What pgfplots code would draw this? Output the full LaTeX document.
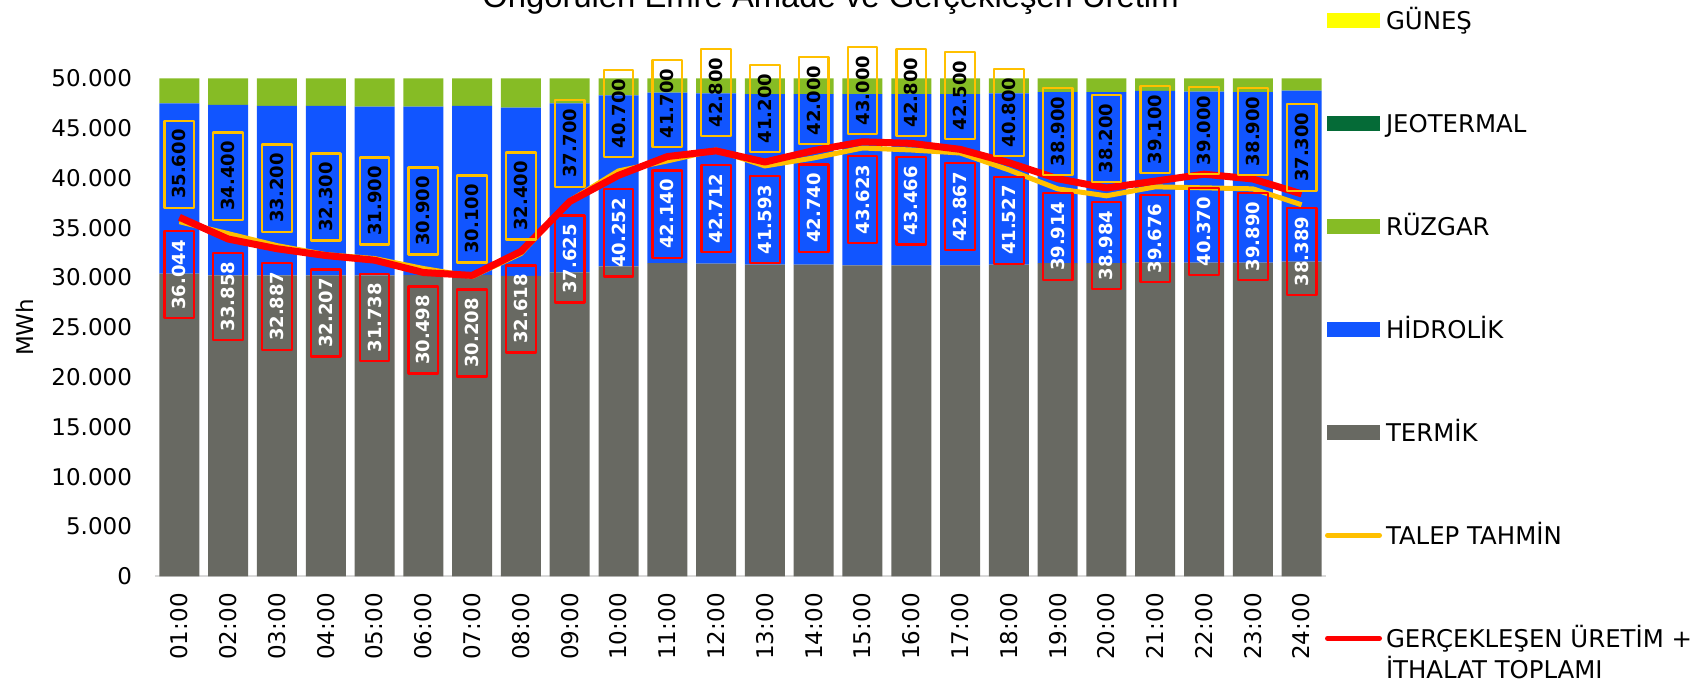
\documentclass[border=0pt]{standalone}
\usepackage{fontspec}
\setmainfont{DejaVu Sans}
\newfontfamily\titlefont{Liberation Sans}
\usepackage{pgfplots}
\usepackage{pgfplotstable}
\pgfplotsset{compat=1.18}
\definecolor{termik}{RGB}{104,105,98}
\definecolor{hidro}{RGB}{17,85,255}
\definecolor{ruzgar}{RGB}{134,188,37}
\definecolor{jeo}{RGB}{5,107,55}
\definecolor{gunes}{RGB}{255,255,0}
\definecolor{talep}{RGB}{255,192,0}
\definecolor{gercek}{RGB}{255,0,0}
\definecolor{axgray}{RGB}{217,217,217}

\pgfplotstableread{
x termik hidro ruzgar talep gercek
0  30380 17110 2510 35600 36044
1  30210 17110 2680 34400 33858
2  30210 17010 2780 33200 32887
3  30210 17010 2780 32300 32207
4  30210 16940 2850 31900 31738
5  30240 16910 2850 30900 30498
6  30240 16980 2780 30100 30208
7  30150 16900 2950 32400 32618
8  30510 16980 2510 37700 37625
9  31110 17180 1710 40700 40252
10 31450 17110 1440 41700 42140
11 31380 17110 1510 42800 42712
12 31280 17140 1580 41200 41593
13 31280 17140 1580 42000 42740
14 31210 17210 1580 43000 43623
15 31210 17210 1580 42800 43466
16 31210 17210 1580 42500 42867
17 31280 17210 1510 40800 41527
18 31450 17170 1380 38900 39914
19 31450 17170 1380 38200 38984
20 31510 17220 1270 39100 39676
21 31480 17180 1340 39000 40370
22 31480 17140 1380 38900 39890
23 31580 17170 1250 37300 38389
}\data

\tikzset{
  talepnode/.style={rotate=90, anchor=west, draw=talep, line width=1.1pt,
    inner xsep=4.4pt, inner ysep=4pt, outer sep=7pt, text=black,
    font=\fontsize{9}{10}\selectfont\bfseries},
  gerceknode/.style={rotate=90, anchor=east, draw=gercek, line width=1.1pt,
    inner xsep=4.4pt, inner ysep=4pt, outer sep=7pt, text=white,
    font=\fontsize{9}{10}\selectfont\bfseries},
}
\pgfplotsset{
  /pgf/number format/.cd, 1000 sep={.}, assume math mode=true,
  /pgfplots/.cd,
  common/.style={
    width=585.5pt, height=249pt, scale only axis,
    xmin=-0.5, xmax=23.5, ymin=0, ymax=50000,
  },
}

\begin{document}
\begin{tikzpicture}
\begin{axis}[common, name=ax,
  ybar stacked, bar width=20pt,
  axis x line=bottom, axis y line=left,
  x axis line style={-, draw=axgray, line width=1pt},
  y axis line style={draw=none},
  major tick length=0pt,
  ytick={0,5000,...,50000},
  scaled y ticks=false,
  xtick=data,
  xticklabels={01:00,02:00,03:00,04:00,05:00,06:00,07:00,08:00,09:00,10:00,11:00,12:00,13:00,14:00,15:00,16:00,17:00,18:00,19:00,20:00,21:00,22:00,23:00,24:00},
  tick label style={font=\fontsize{11.5}{13}\selectfont},
  yticklabel style={xshift=-8pt},
  xticklabel style={yshift=-5pt, rotate=90, anchor=east},
  ylabel={MWh},
  every axis y label/.style={at={(axis description cs:0,0.5)}, anchor=center, xshift=-65pt, rotate=90, font=\fontsize{11.5}{13}\selectfont},
  title={\titlefont Öngörülen Emre Amade ve Gerçekleşen Üretim},
  every axis title/.style={at={(axis description cs:0.5,1)}, anchor=base, xshift=45pt, yshift=35.2pt, font=\fontsize{16.4}{18}\selectfont},
  legend cell align=left,
  legend style={draw=none, fill=none, at={(axis description cs:1,1)}, anchor=north west,
    xshift=-0.5pt, yshift=33.5pt, inner sep=0pt, outer sep=0pt, row sep=42.4pt, column sep=2pt,
    font=\fontsize{12.2}{14}\selectfont,
    nodes={inner sep=0pt, text height=9.1pt, text depth=0pt}},
  clip=false,
]
\addlegendimage{legend image code/.code={\fill[gunes] (0pt,-3.5pt) rectangle (26pt,3.5pt);}}
\addlegendentry{GÜNEŞ}
\addlegendimage{legend image code/.code={\fill[jeo] (0pt,-3.5pt) rectangle (26pt,3.5pt);}}
\addlegendentry{JEOTERMAL}
\addlegendimage{legend image code/.code={\fill[ruzgar] (0pt,-3.5pt) rectangle (26pt,3.5pt);}}
\addlegendentry{RÜZGAR}
\addlegendimage{legend image code/.code={\fill[hidro] (0pt,-3.5pt) rectangle (26pt,3.5pt);}}
\addlegendentry{HİDROLİK}
\addlegendimage{legend image code/.code={\fill[termik] (0pt,-3.5pt) rectangle (26pt,3.5pt);}}
\addlegendentry{TERMİK}
\addlegendimage{legend image code/.code={\draw[talep, line width=2.5pt, line cap=round] (0pt,0pt) -- (26pt,0pt);}}
\addlegendentry{TALEP TAHMİN}
\addlegendimage{legend image code/.code={\draw[gercek, line width=2.5pt, line cap=round] (0pt,0pt) -- (26pt,0pt);}}
\addlegendentry{\begin{tabular}[t]{@{}l@{}}GERÇEKLEŞEN ÜRETİM +\\İTHALAT TOPLAMI\end{tabular}}
\addplot[forget plot, fill=termik, draw=none] table[x=x, y=termik]{\data};
\addplot[forget plot, fill=hidro, draw=none] table[x=x, y=hidro]{\data};
\addplot[forget plot, fill=ruzgar, draw=none] table[x=x, y=ruzgar]{\data};
\end{axis}
\begin{axis}[common, hide axis, clip=false]
\addplot[talep, line width=2.5pt, line join=round, mark=none,
  nodes near coords, nodes near coords style={talepnode}] table[x=x, y=talep]{\data};
\addplot[gercek, line width=3.5pt, line join=round, mark=none,
  nodes near coords, nodes near coords style={gerceknode}] table[x=x, y=gercek]{\data};
\end{axis}
\pgfresetboundingbox
\path ([shift={(-77.5pt,-54.2pt)}]ax.south west) rectangle ([shift={(183pt,39.15pt)}]ax.north east);
\end{tikzpicture}
\end{document}
